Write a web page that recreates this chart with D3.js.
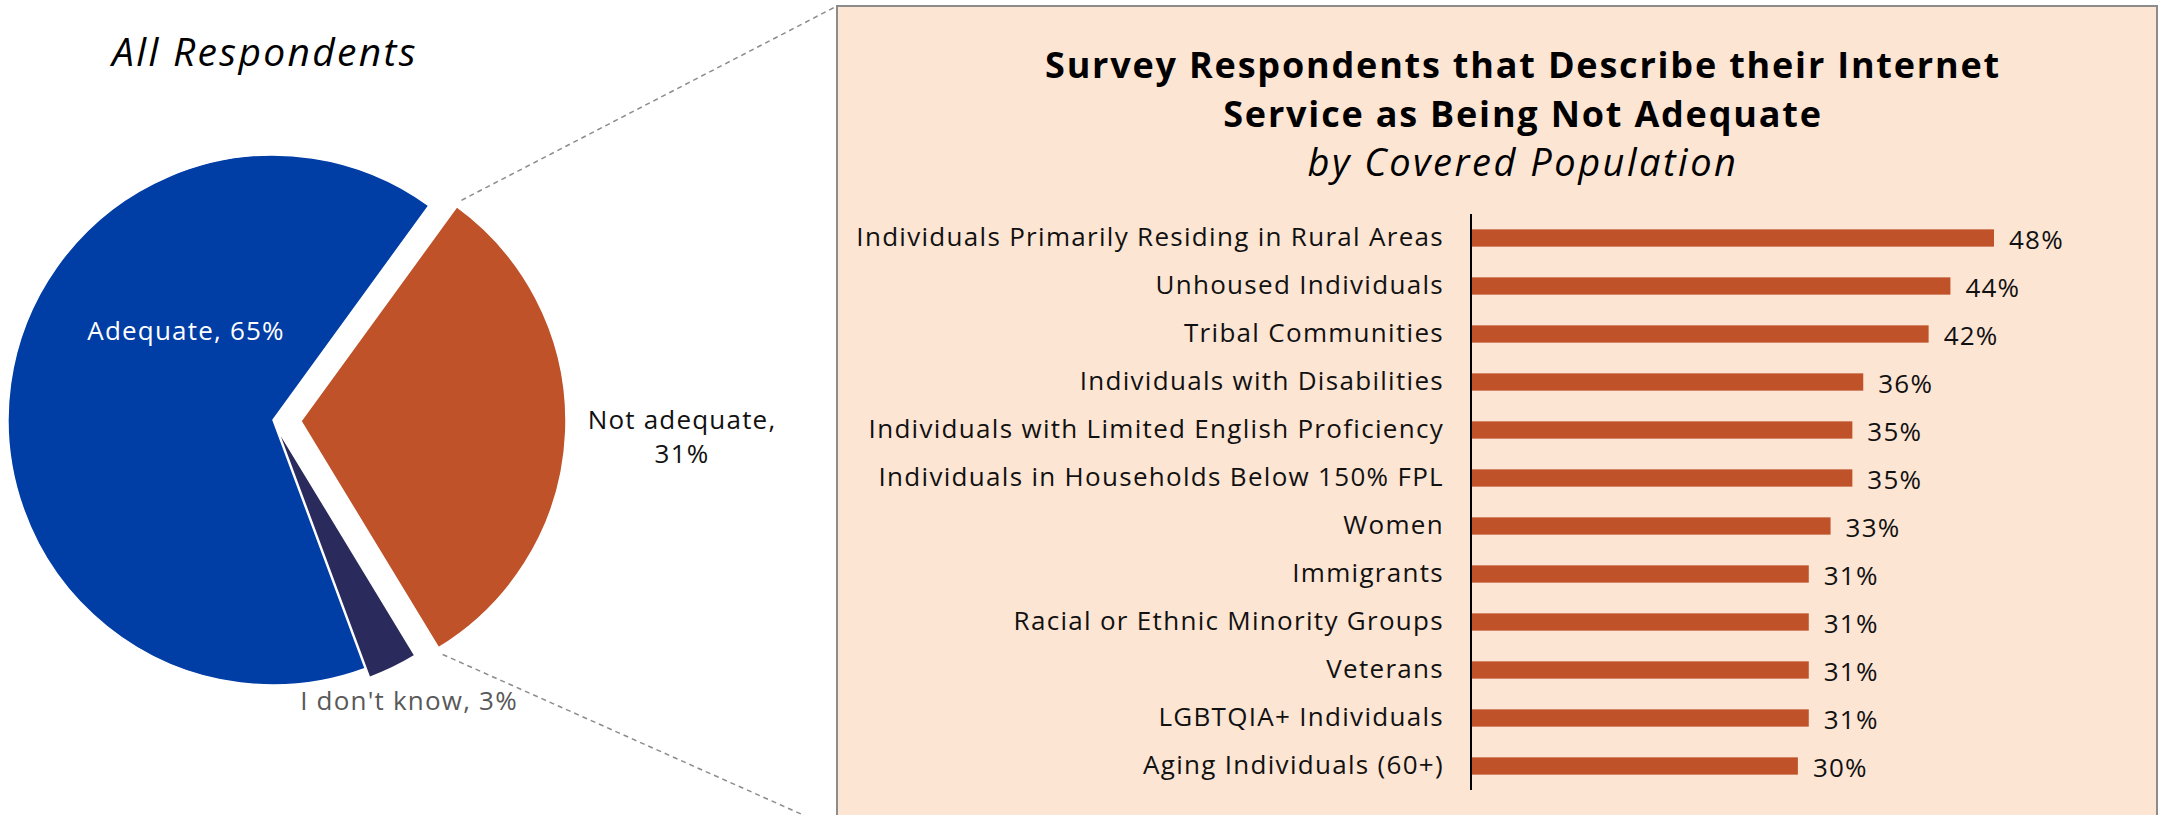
<!DOCTYPE html>
<html>
<head>
<meta charset="utf-8">
<script src="https://cdn.jsdelivr.net/npm/d3@7"></script>
<style>
  html, body { margin: 0; padding: 0; background: #ffffff; }
  svg { display: block; }
  text { font-family: "Open Sans", "Noto Sans", sans-serif; }
</style>
</head>
<body>
<svg id="chart" width="2164" height="815"></svg>
<script>
// Overall answers (pie)
const pieLabels = ["Not adequate", "I don't know", "Adequate"];
const pieValues = [31, 3, 65];
const pieColors = ["#BF5229", "#2A2B5C", "#003DA5"];
const pieExplode = [28, 10, 0];

// Not adequate share by covered population (bars)
const categories = [
  "Individuals Primarily Residing in Rural Areas",
  "Unhoused Individuals",
  "Tribal Communities",
  "Individuals with Disabilities",
  "Individuals with Limited English Proficiency",
  "Individuals in Households Below 150% FPL",
  "Women",
  "Immigrants",
  "Racial or Ethnic Minority Groups",
  "Veterans",
  "LGBTQIA+ Individuals",
  "Aging Individuals (60+)"
];
const values = [48, 44, 42, 36, 35, 35, 33, 31, 31, 31, 31, 30];

const svg = d3.select("#chart");

// ---------- Pie ----------
const cx = 273, cy = 420, radius = 265;
const pie = d3.pie().sort(null).value(d => d.v)
  .startAngle(36 * Math.PI / 180)
  .endAngle(36 * Math.PI / 180 + 2 * Math.PI);
const arc = d3.arc().innerRadius(0).outerRadius(radius);
const pieData = pie(pieValues.map((v, i) => ({ v, label: pieLabels[i], color: pieColors[i], ex: pieExplode[i] })));

// connector lines from the exploded slice to the detail panel
const panelX = 837, panelTop = 6;
const orange = pieData[0];
const a0 = orange.startAngle, a1 = orange.endAngle;
const ox = cx + orange.data.ex * Math.sin((a0 + a1) / 2);
const oy = cy - orange.data.ex * Math.cos((a0 + a1) / 2);
const p0 = [ox + (radius + 8) * Math.sin(a0), oy - (radius + 8) * Math.cos(a0)];
const p1 = [ox + (radius + 8) * Math.sin(a1), oy - (radius + 8) * Math.cos(a1)];
svg.append("line")
  .attr("x1", p0[0]).attr("y1", p0[1]).attr("x2", panelX).attr("y2", panelTop)
  .attr("stroke", "#8c8c8c").attr("stroke-width", 1.5).attr("stroke-dasharray", "5,4");
svg.append("line")
  .attr("x1", p1[0]).attr("y1", p1[1]).attr("x2", panelX).attr("y2", 830)
  .attr("stroke", "#8c8c8c").attr("stroke-width", 1.5).attr("stroke-dasharray", "5,4");

const pieG = svg.append("g").attr("transform", `translate(${cx},${cy})`);
pieG.selectAll("path.slice")
  .data(pieData)
  .join("path")
  .attr("class", "slice")
  .attr("transform", d => {
    const m = (d.startAngle + d.endAngle) / 2;
    return `translate(${d.data.ex * Math.sin(m)},${-d.data.ex * Math.cos(m)})`;
  })
  .attr("d", arc)
  .attr("fill", d => d.data.color)
  .attr("stroke", "#ffffff")
  .attr("stroke-width", 1.5)
  .attr("stroke-linejoin", "round");

// slice labels
const pct = v => `${v}%`;
const labelFont = { size: 26, spacing: 1.2 };
pieG.append("text")
  .attr("x", -87).attr("y", -80)
  .attr("text-anchor", "middle").attr("font-size", labelFont.size)
  .attr("letter-spacing", labelFont.spacing).attr("fill", "#ffffff")
  .text(`${pieLabels[2]}, ${pct(pieValues[2])}`);
const naText = pieG.append("text")
  .attr("text-anchor", "middle").attr("font-size", labelFont.size)
  .attr("letter-spacing", labelFont.spacing).attr("fill", "#111111");
naText.append("tspan").attr("x", 409).attr("y", 9).text(`${pieLabels[0]},`);
naText.append("tspan").attr("x", 409).attr("y", 43).text(pct(pieValues[0]));
pieG.append("text")
  .attr("x", 136).attr("y", 290)
  .attr("text-anchor", "middle").attr("font-size", labelFont.size)
  .attr("letter-spacing", labelFont.spacing).attr("fill", "#595959")
  .text(`${pieLabels[1]}, ${pct(pieValues[1])}`);

svg.append("text")
  .attr("x", 265).attr("y", 66)
  .attr("text-anchor", "middle").attr("font-size", 39).attr("font-style", "italic")
  .attr("letter-spacing", 2.3).attr("fill", "#000000")
  .text("All Respondents");

// ---------- Detail panel ----------
svg.append("rect")
  .attr("x", panelX).attr("y", panelTop)
  .attr("width", 2157 - panelX).attr("height", 840)
  .attr("fill", "#FDE5D4")
  .attr("stroke", "#8c8c8c").attr("stroke-width", 2);

const titleX = 1523;
svg.append("text").attr("x", titleX).attr("y", 78)
  .attr("text-anchor", "middle").attr("font-size", 36).attr("font-weight", 700)
  .attr("letter-spacing", 1.8)
  .text("Survey Respondents that Describe their Internet");
svg.append("text").attr("x", titleX).attr("y", 127)
  .attr("text-anchor", "middle").attr("font-size", 36).attr("font-weight", 700)
  .attr("letter-spacing", 1.8)
  .text("Service as Being Not Adequate");
svg.append("text").attr("x", titleX).attr("y", 176)
  .attr("text-anchor", "middle").attr("font-size", 38).attr("font-style", "italic")
  .attr("letter-spacing", 2.5)
  .text("by Covered Population");

const axisX = 1471;
const x = d3.scaleLinear().domain([0, 48]).range([axisX, 1994]);
const y = d3.scaleBand().domain(categories).range([214, 790])
  .paddingInner(0.64).paddingOuter(0.32);

svg.append("g").selectAll("rect.bar")
  .data(values)
  .join("rect")
  .attr("class", "bar")
  .attr("x", x(0))
  .attr("y", (d, i) => y(categories[i]))
  .attr("width", d => x(d) - x(0))
  .attr("height", y.bandwidth())
  .attr("fill", "#BF5229");

const yAxis = svg.append("g")
  .attr("transform", `translate(${axisX},0)`)
  .call(d3.axisLeft(y).tickSize(0).tickPadding(27));
yAxis.select(".domain").attr("stroke", "#000").attr("stroke-width", 2)
  .attr("d", "M0,214V790");
yAxis.selectAll("text")
  .attr("font-size", 26).attr("letter-spacing", 1.3).attr("fill", "#111111")
  .attr("font-family", "\"Open Sans\", sans-serif");

svg.append("g").selectAll("text.val")
  .data(values)
  .join("text")
  .attr("class", "val")
  .attr("x", d => x(d) + 15)
  .attr("y", (d, i) => y(categories[i]) + y.bandwidth() / 2 + 11)
  .attr("font-size", 26).attr("letter-spacing", 1.2).attr("fill", "#111111")
  .text(d => pct(d));
</script>
</body>
</html>
